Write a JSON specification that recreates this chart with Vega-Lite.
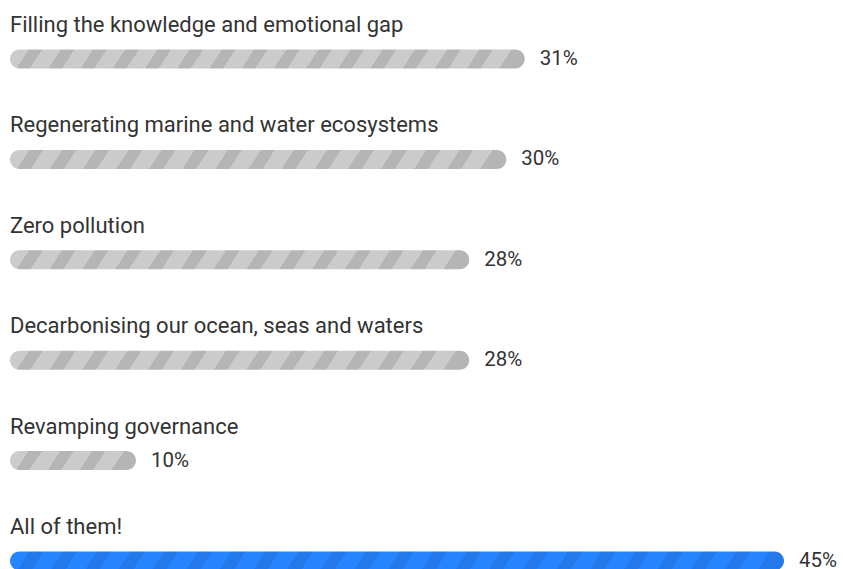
{
  "$schema": "https://vega.github.io/schema/vega-lite/v6.json",
  "width": 774,
  "height": 502,
  "autosize": "none",
  "padding": {"left": 10, "top": 59, "right": 59, "bottom": 8},
  "background": "white",
  "config": {"view": {"stroke": null}},
  "data": {
    "values": [
      {"label": "Filling the knowledge and emotional gap", "pct": 31, "pct_label": "31%"},
      {"label": "Regenerating marine and water ecosystems", "pct": 30, "pct_label": "30%"},
      {"label": "Zero pollution", "pct": 28, "pct_label": "28%"},
      {"label": "Decarbonising our ocean, seas and waters", "pct": 28, "pct_label": "28%"},
      {"label": "Revamping governance", "pct": 10, "pct_label": "10%"},
      {"label": "All of them!", "pct": 45, "pct_label": "45%"}
    ]
  },
  "encoding": {
    "y": {
      "field": "label",
      "type": "nominal",
      "sort": null,
      "axis": null,
      "scale": {
        "type": "point",
        "padding": 0,
        "domain": [
          "Filling the knowledge and emotional gap",
          "Regenerating marine and water ecosystems",
          "Zero pollution",
          "Decarbonising our ocean, seas and waters",
          "Revamping governance",
          "All of them!"
        ]
      }
    }
  },
  "layer": [
    {
      "transform": [{"filter": "datum.pct == 45"}],
      "mark": {
        "type": "bar", "height": 19, "cornerRadius": 9.5,
        "fill": {
          "gradient": "linear", "x1": 0, "y1": 0, "x2": 1, "y2": 0.016,
          "stops": [
            {"offset": 0, "color": "#2684ff"}, {"offset": 0.02522, "color": "#2684ff"}, {"offset": 0.02522, "color": "#2378ea"}, {"offset": 0.04348, "color": "#2378ea"},
            {"offset": 0.04348, "color": "#2684ff"}, {"offset": 0.0687, "color": "#2684ff"}, {"offset": 0.0687, "color": "#2378ea"}, {"offset": 0.08696, "color": "#2378ea"},
            {"offset": 0.08696, "color": "#2684ff"}, {"offset": 0.11217, "color": "#2684ff"}, {"offset": 0.11217, "color": "#2378ea"}, {"offset": 0.13043, "color": "#2378ea"},
            {"offset": 0.13043, "color": "#2684ff"}, {"offset": 0.15565, "color": "#2684ff"}, {"offset": 0.15565, "color": "#2378ea"}, {"offset": 0.17391, "color": "#2378ea"},
            {"offset": 0.17391, "color": "#2684ff"}, {"offset": 0.19913, "color": "#2684ff"}, {"offset": 0.19913, "color": "#2378ea"}, {"offset": 0.21739, "color": "#2378ea"},
            {"offset": 0.21739, "color": "#2684ff"}, {"offset": 0.24261, "color": "#2684ff"}, {"offset": 0.24261, "color": "#2378ea"}, {"offset": 0.26087, "color": "#2378ea"},
            {"offset": 0.26087, "color": "#2684ff"}, {"offset": 0.28609, "color": "#2684ff"}, {"offset": 0.28609, "color": "#2378ea"}, {"offset": 0.30435, "color": "#2378ea"},
            {"offset": 0.30435, "color": "#2684ff"}, {"offset": 0.32957, "color": "#2684ff"}, {"offset": 0.32957, "color": "#2378ea"}, {"offset": 0.34783, "color": "#2378ea"},
            {"offset": 0.34783, "color": "#2684ff"}, {"offset": 0.37304, "color": "#2684ff"}, {"offset": 0.37304, "color": "#2378ea"}, {"offset": 0.3913, "color": "#2378ea"},
            {"offset": 0.3913, "color": "#2684ff"}, {"offset": 0.41652, "color": "#2684ff"}, {"offset": 0.41652, "color": "#2378ea"}, {"offset": 0.43478, "color": "#2378ea"},
            {"offset": 0.43478, "color": "#2684ff"}, {"offset": 0.46, "color": "#2684ff"}, {"offset": 0.46, "color": "#2378ea"}, {"offset": 0.47826, "color": "#2378ea"},
            {"offset": 0.47826, "color": "#2684ff"}, {"offset": 0.50348, "color": "#2684ff"}, {"offset": 0.50348, "color": "#2378ea"}, {"offset": 0.52174, "color": "#2378ea"},
            {"offset": 0.52174, "color": "#2684ff"}, {"offset": 0.54696, "color": "#2684ff"}, {"offset": 0.54696, "color": "#2378ea"}, {"offset": 0.56522, "color": "#2378ea"},
            {"offset": 0.56522, "color": "#2684ff"}, {"offset": 0.59043, "color": "#2684ff"}, {"offset": 0.59043, "color": "#2378ea"}, {"offset": 0.6087, "color": "#2378ea"},
            {"offset": 0.6087, "color": "#2684ff"}, {"offset": 0.63391, "color": "#2684ff"}, {"offset": 0.63391, "color": "#2378ea"}, {"offset": 0.65217, "color": "#2378ea"},
            {"offset": 0.65217, "color": "#2684ff"}, {"offset": 0.67739, "color": "#2684ff"}, {"offset": 0.67739, "color": "#2378ea"}, {"offset": 0.69565, "color": "#2378ea"},
            {"offset": 0.69565, "color": "#2684ff"}, {"offset": 0.72087, "color": "#2684ff"}, {"offset": 0.72087, "color": "#2378ea"}, {"offset": 0.73913, "color": "#2378ea"},
            {"offset": 0.73913, "color": "#2684ff"}, {"offset": 0.76435, "color": "#2684ff"}, {"offset": 0.76435, "color": "#2378ea"}, {"offset": 0.78261, "color": "#2378ea"},
            {"offset": 0.78261, "color": "#2684ff"}, {"offset": 0.80783, "color": "#2684ff"}, {"offset": 0.80783, "color": "#2378ea"}, {"offset": 0.82609, "color": "#2378ea"},
            {"offset": 0.82609, "color": "#2684ff"}, {"offset": 0.8513, "color": "#2684ff"}, {"offset": 0.8513, "color": "#2378ea"}, {"offset": 0.86957, "color": "#2378ea"},
            {"offset": 0.86957, "color": "#2684ff"}, {"offset": 0.89478, "color": "#2684ff"}, {"offset": 0.89478, "color": "#2378ea"}, {"offset": 0.91304, "color": "#2378ea"},
            {"offset": 0.91304, "color": "#2684ff"}, {"offset": 0.93826, "color": "#2684ff"}, {"offset": 0.93826, "color": "#2378ea"}, {"offset": 0.95652, "color": "#2378ea"},
            {"offset": 0.95652, "color": "#2684ff"}, {"offset": 0.98174, "color": "#2684ff"}, {"offset": 0.98174, "color": "#2378ea"}, {"offset": 1, "color": "#2378ea"}
          ]
        }
      },
      "encoding": {
        "x": {"field": "pct", "type": "quantitative", "axis": null, "scale": {"domain": [3.2, 45], "zero": false, "nice": false}},
        "x2": {"datum": 3.2}
      }
    },
    {
      "transform": [{"filter": "datum.pct == 31"}],
      "mark": {
        "type": "bar", "height": 19, "cornerRadius": 9.5,
        "fill": {
          "gradient": "linear", "x1": 0, "y1": 0, "x2": 1, "y2": 0.024,
          "stops": [
            {"offset": 0, "color": "#cbcbcb"}, {"offset": 0.03625, "color": "#cbcbcb"}, {"offset": 0.03625, "color": "#b5b5b5"}, {"offset": 0.0625, "color": "#b5b5b5"},
            {"offset": 0.0625, "color": "#cbcbcb"}, {"offset": 0.09875, "color": "#cbcbcb"}, {"offset": 0.09875, "color": "#b5b5b5"}, {"offset": 0.125, "color": "#b5b5b5"},
            {"offset": 0.125, "color": "#cbcbcb"}, {"offset": 0.16125, "color": "#cbcbcb"}, {"offset": 0.16125, "color": "#b5b5b5"}, {"offset": 0.1875, "color": "#b5b5b5"},
            {"offset": 0.1875, "color": "#cbcbcb"}, {"offset": 0.22375, "color": "#cbcbcb"}, {"offset": 0.22375, "color": "#b5b5b5"}, {"offset": 0.25, "color": "#b5b5b5"},
            {"offset": 0.25, "color": "#cbcbcb"}, {"offset": 0.28625, "color": "#cbcbcb"}, {"offset": 0.28625, "color": "#b5b5b5"}, {"offset": 0.3125, "color": "#b5b5b5"},
            {"offset": 0.3125, "color": "#cbcbcb"}, {"offset": 0.34875, "color": "#cbcbcb"}, {"offset": 0.34875, "color": "#b5b5b5"}, {"offset": 0.375, "color": "#b5b5b5"},
            {"offset": 0.375, "color": "#cbcbcb"}, {"offset": 0.41125, "color": "#cbcbcb"}, {"offset": 0.41125, "color": "#b5b5b5"}, {"offset": 0.4375, "color": "#b5b5b5"},
            {"offset": 0.4375, "color": "#cbcbcb"}, {"offset": 0.47375, "color": "#cbcbcb"}, {"offset": 0.47375, "color": "#b5b5b5"}, {"offset": 0.5, "color": "#b5b5b5"},
            {"offset": 0.5, "color": "#cbcbcb"}, {"offset": 0.53625, "color": "#cbcbcb"}, {"offset": 0.53625, "color": "#b5b5b5"}, {"offset": 0.5625, "color": "#b5b5b5"},
            {"offset": 0.5625, "color": "#cbcbcb"}, {"offset": 0.59875, "color": "#cbcbcb"}, {"offset": 0.59875, "color": "#b5b5b5"}, {"offset": 0.625, "color": "#b5b5b5"},
            {"offset": 0.625, "color": "#cbcbcb"}, {"offset": 0.66125, "color": "#cbcbcb"}, {"offset": 0.66125, "color": "#b5b5b5"}, {"offset": 0.6875, "color": "#b5b5b5"},
            {"offset": 0.6875, "color": "#cbcbcb"}, {"offset": 0.72375, "color": "#cbcbcb"}, {"offset": 0.72375, "color": "#b5b5b5"}, {"offset": 0.75, "color": "#b5b5b5"},
            {"offset": 0.75, "color": "#cbcbcb"}, {"offset": 0.78625, "color": "#cbcbcb"}, {"offset": 0.78625, "color": "#b5b5b5"}, {"offset": 0.8125, "color": "#b5b5b5"},
            {"offset": 0.8125, "color": "#cbcbcb"}, {"offset": 0.84875, "color": "#cbcbcb"}, {"offset": 0.84875, "color": "#b5b5b5"}, {"offset": 0.875, "color": "#b5b5b5"},
            {"offset": 0.875, "color": "#cbcbcb"}, {"offset": 0.91125, "color": "#cbcbcb"}, {"offset": 0.91125, "color": "#b5b5b5"}, {"offset": 0.9375, "color": "#b5b5b5"},
            {"offset": 0.9375, "color": "#cbcbcb"}, {"offset": 0.97375, "color": "#cbcbcb"}, {"offset": 0.97375, "color": "#b5b5b5"}, {"offset": 1, "color": "#b5b5b5"}
          ]
        }
      },
      "encoding": {
        "x": {"field": "pct", "type": "quantitative"},
        "x2": {"datum": 3.2}
      }
    },
    {
      "transform": [{"filter": "datum.pct == 30"}],
      "mark": {
        "type": "bar", "height": 19, "cornerRadius": 9.5,
        "fill": {
          "gradient": "linear", "x1": 0, "y1": 0, "x2": 1, "y2": 0.025,
          "stops": [
            {"offset": 0, "color": "#cbcbcb"}, {"offset": 0.03867, "color": "#cbcbcb"}, {"offset": 0.03867, "color": "#b5b5b5"}, {"offset": 0.06667, "color": "#b5b5b5"},
            {"offset": 0.06667, "color": "#cbcbcb"}, {"offset": 0.10533, "color": "#cbcbcb"}, {"offset": 0.10533, "color": "#b5b5b5"}, {"offset": 0.13333, "color": "#b5b5b5"},
            {"offset": 0.13333, "color": "#cbcbcb"}, {"offset": 0.172, "color": "#cbcbcb"}, {"offset": 0.172, "color": "#b5b5b5"}, {"offset": 0.2, "color": "#b5b5b5"},
            {"offset": 0.2, "color": "#cbcbcb"}, {"offset": 0.23867, "color": "#cbcbcb"}, {"offset": 0.23867, "color": "#b5b5b5"}, {"offset": 0.26667, "color": "#b5b5b5"},
            {"offset": 0.26667, "color": "#cbcbcb"}, {"offset": 0.30533, "color": "#cbcbcb"}, {"offset": 0.30533, "color": "#b5b5b5"}, {"offset": 0.33333, "color": "#b5b5b5"},
            {"offset": 0.33333, "color": "#cbcbcb"}, {"offset": 0.372, "color": "#cbcbcb"}, {"offset": 0.372, "color": "#b5b5b5"}, {"offset": 0.4, "color": "#b5b5b5"},
            {"offset": 0.4, "color": "#cbcbcb"}, {"offset": 0.43867, "color": "#cbcbcb"}, {"offset": 0.43867, "color": "#b5b5b5"}, {"offset": 0.46667, "color": "#b5b5b5"},
            {"offset": 0.46667, "color": "#cbcbcb"}, {"offset": 0.50533, "color": "#cbcbcb"}, {"offset": 0.50533, "color": "#b5b5b5"}, {"offset": 0.53333, "color": "#b5b5b5"},
            {"offset": 0.53333, "color": "#cbcbcb"}, {"offset": 0.572, "color": "#cbcbcb"}, {"offset": 0.572, "color": "#b5b5b5"}, {"offset": 0.6, "color": "#b5b5b5"},
            {"offset": 0.6, "color": "#cbcbcb"}, {"offset": 0.63867, "color": "#cbcbcb"}, {"offset": 0.63867, "color": "#b5b5b5"}, {"offset": 0.66667, "color": "#b5b5b5"},
            {"offset": 0.66667, "color": "#cbcbcb"}, {"offset": 0.70533, "color": "#cbcbcb"}, {"offset": 0.70533, "color": "#b5b5b5"}, {"offset": 0.73333, "color": "#b5b5b5"},
            {"offset": 0.73333, "color": "#cbcbcb"}, {"offset": 0.772, "color": "#cbcbcb"}, {"offset": 0.772, "color": "#b5b5b5"}, {"offset": 0.8, "color": "#b5b5b5"},
            {"offset": 0.8, "color": "#cbcbcb"}, {"offset": 0.83867, "color": "#cbcbcb"}, {"offset": 0.83867, "color": "#b5b5b5"}, {"offset": 0.86667, "color": "#b5b5b5"},
            {"offset": 0.86667, "color": "#cbcbcb"}, {"offset": 0.90533, "color": "#cbcbcb"}, {"offset": 0.90533, "color": "#b5b5b5"}, {"offset": 0.93333, "color": "#b5b5b5"},
            {"offset": 0.93333, "color": "#cbcbcb"}, {"offset": 0.972, "color": "#cbcbcb"}, {"offset": 0.972, "color": "#b5b5b5"}, {"offset": 1, "color": "#b5b5b5"}
          ]
        }
      },
      "encoding": {
        "x": {"field": "pct", "type": "quantitative"},
        "x2": {"datum": 3.2}
      }
    },
    {
      "transform": [{"filter": "datum.pct == 28"}],
      "mark": {
        "type": "bar", "height": 19, "cornerRadius": 9.5,
        "fill": {
          "gradient": "linear", "x1": 0, "y1": 0, "x2": 1, "y2": 0.027,
          "stops": [
            {"offset": 0, "color": "#cbcbcb"}, {"offset": 0.04143, "color": "#cbcbcb"}, {"offset": 0.04143, "color": "#b5b5b5"}, {"offset": 0.07143, "color": "#b5b5b5"},
            {"offset": 0.07143, "color": "#cbcbcb"}, {"offset": 0.11286, "color": "#cbcbcb"}, {"offset": 0.11286, "color": "#b5b5b5"}, {"offset": 0.14286, "color": "#b5b5b5"},
            {"offset": 0.14286, "color": "#cbcbcb"}, {"offset": 0.18429, "color": "#cbcbcb"}, {"offset": 0.18429, "color": "#b5b5b5"}, {"offset": 0.21429, "color": "#b5b5b5"},
            {"offset": 0.21429, "color": "#cbcbcb"}, {"offset": 0.25571, "color": "#cbcbcb"}, {"offset": 0.25571, "color": "#b5b5b5"}, {"offset": 0.28571, "color": "#b5b5b5"},
            {"offset": 0.28571, "color": "#cbcbcb"}, {"offset": 0.32714, "color": "#cbcbcb"}, {"offset": 0.32714, "color": "#b5b5b5"}, {"offset": 0.35714, "color": "#b5b5b5"},
            {"offset": 0.35714, "color": "#cbcbcb"}, {"offset": 0.39857, "color": "#cbcbcb"}, {"offset": 0.39857, "color": "#b5b5b5"}, {"offset": 0.42857, "color": "#b5b5b5"},
            {"offset": 0.42857, "color": "#cbcbcb"}, {"offset": 0.47, "color": "#cbcbcb"}, {"offset": 0.47, "color": "#b5b5b5"}, {"offset": 0.5, "color": "#b5b5b5"},
            {"offset": 0.5, "color": "#cbcbcb"}, {"offset": 0.54143, "color": "#cbcbcb"}, {"offset": 0.54143, "color": "#b5b5b5"}, {"offset": 0.57143, "color": "#b5b5b5"},
            {"offset": 0.57143, "color": "#cbcbcb"}, {"offset": 0.61286, "color": "#cbcbcb"}, {"offset": 0.61286, "color": "#b5b5b5"}, {"offset": 0.64286, "color": "#b5b5b5"},
            {"offset": 0.64286, "color": "#cbcbcb"}, {"offset": 0.68429, "color": "#cbcbcb"}, {"offset": 0.68429, "color": "#b5b5b5"}, {"offset": 0.71429, "color": "#b5b5b5"},
            {"offset": 0.71429, "color": "#cbcbcb"}, {"offset": 0.75571, "color": "#cbcbcb"}, {"offset": 0.75571, "color": "#b5b5b5"}, {"offset": 0.78571, "color": "#b5b5b5"},
            {"offset": 0.78571, "color": "#cbcbcb"}, {"offset": 0.82714, "color": "#cbcbcb"}, {"offset": 0.82714, "color": "#b5b5b5"}, {"offset": 0.85714, "color": "#b5b5b5"},
            {"offset": 0.85714, "color": "#cbcbcb"}, {"offset": 0.89857, "color": "#cbcbcb"}, {"offset": 0.89857, "color": "#b5b5b5"}, {"offset": 0.92857, "color": "#b5b5b5"},
            {"offset": 0.92857, "color": "#cbcbcb"}, {"offset": 0.97, "color": "#cbcbcb"}, {"offset": 0.97, "color": "#b5b5b5"}, {"offset": 1, "color": "#b5b5b5"}
          ]
        }
      },
      "encoding": {
        "x": {"field": "pct", "type": "quantitative"},
        "x2": {"datum": 3.2}
      }
    },
    {
      "transform": [{"filter": "datum.pct == 10"}],
      "mark": {
        "type": "bar", "height": 19, "cornerRadius": 9.5,
        "fill": {
          "gradient": "linear", "x1": 0, "y1": 0, "x2": 1, "y2": 0.098,
          "stops": [
            {"offset": 0, "color": "#cbcbcb"}, {"offset": 0.145, "color": "#cbcbcb"}, {"offset": 0.145, "color": "#b5b5b5"}, {"offset": 0.25, "color": "#b5b5b5"},
            {"offset": 0.25, "color": "#cbcbcb"}, {"offset": 0.395, "color": "#cbcbcb"}, {"offset": 0.395, "color": "#b5b5b5"}, {"offset": 0.5, "color": "#b5b5b5"},
            {"offset": 0.5, "color": "#cbcbcb"}, {"offset": 0.645, "color": "#cbcbcb"}, {"offset": 0.645, "color": "#b5b5b5"}, {"offset": 0.75, "color": "#b5b5b5"},
            {"offset": 0.75, "color": "#cbcbcb"}, {"offset": 0.895, "color": "#cbcbcb"}, {"offset": 0.895, "color": "#b5b5b5"}, {"offset": 1, "color": "#b5b5b5"}
          ]
        }
      },
      "encoding": {
        "x": {"field": "pct", "type": "quantitative"},
        "x2": {"datum": 3.2}
      }
    },
    {
      "mark": {"type": "text", "align": "left", "baseline": "alphabetic", "dy": -27, "font": "Roboto", "fontSize": 22, "color": "#333333"},
      "encoding": {
        "x": {"datum": 3.2, "type": "quantitative"},
        "text": {"field": "label"}
      }
    },
    {
      "mark": {"type": "text", "align": "left", "baseline": "alphabetic", "dx": 15, "dy": 6, "font": "Roboto", "fontSize": 20.5, "color": "#333333"},
      "encoding": {
        "x": {"field": "pct", "type": "quantitative"},
        "text": {"field": "pct_label"}
      }
    }
  ]
}
